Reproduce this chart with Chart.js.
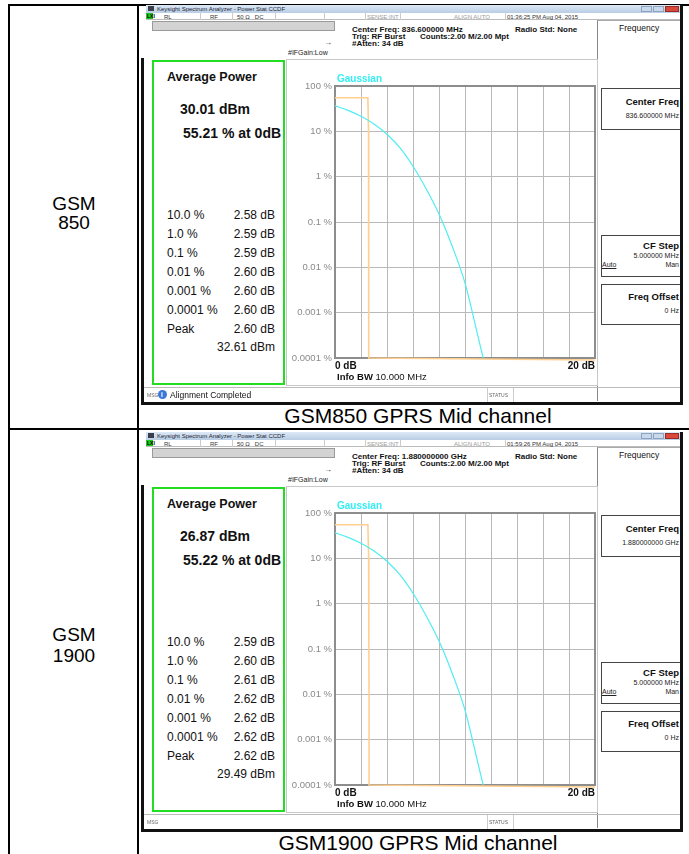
<!DOCTYPE html>
<html>
<head>
<meta charset="utf-8">
<script src="https://cdn.jsdelivr.net/npm/chart.js@4.4.0/dist/chart.umd.min.js"></script>
<style>
  body { margin: 0; background: #fff; font-family: "Liberation Sans", Arial, sans-serif; }
  #page { position: relative; width: 689px; height: 854px; overflow: hidden; }
  .a { position: absolute; white-space: nowrap; line-height: 1; }
  .box { position: absolute; box-sizing: border-box; }
</style>
</head>
<body>
<div id="page"></div>
<script>
// CCDF plot values (x in dB, y in % of time)
const yTicks = [100, 10, 1, 0.1, 0.01, 0.001, 0.0001];
const yTickLabels = ['100 %', '10 %', '1 %', '0.1 %', '0.01 %', '0.001 %', '0.0001 %'];
const gaussDb = [0, 1, 2, 3, 4, 5, 6, 7, 8, 9, 10, 11, 11.4];
const gaussPct = [36.5, 29, 21.5, 14.5, 8.6, 4.3, 1.7, 0.55, 0.15, 0.03, 0.0045, 0.0003, 0.0001];
const ccdfDb850 = [0, 2.53, 2.58, 2.59, 2.59, 2.60, 2.60, 2.60, 20];
const ccdfPct850 = [55.21, 55.21, 10, 1, 0.1, 0.01, 0.001, 0.0001, 0.00009];
const ccdfDb1900 = [0, 2.53, 2.59, 2.60, 2.61, 2.62, 2.62, 2.62, 20];
const ccdfPct1900 = [55.22, 55.22, 10, 1, 0.1, 0.01, 0.001, 0.0001, 0.00009];

// marker table shown in the green box
const statLabels = ['10.0 %', '1.0 %', '0.1 %', '0.01 %', '0.001 %', '0.0001 %', 'Peak'];
const stats850 = ['2.58 dB', '2.59 dB', '2.59 dB', '2.60 dB', '2.60 dB', '2.60 dB', '2.60 dB'];
const stats1900 = ['2.59 dB', '2.60 dB', '2.61 dB', '2.62 dB', '2.62 dB', '2.62 dB', '2.62 dB'];

const page = document.getElementById('page');

function el(cls, css, html) {
  const d = document.createElement('div');
  d.className = cls;
  d.style.cssText = css;
  if (html !== undefined) d.innerHTML = html;
  page.appendChild(d);
  return d;
}
function txt(x, y, size, html, extra) {
  return el('a', `left:${x}px;top:${y}px;font-size:${size}px;${extra || ''}`, html);
}
function rtxt(right, y, size, html, extra) {
  return el('a', `right:${689 - right}px;top:${y}px;font-size:${size}px;${extra || ''}`, html);
}

const framePlugin = {
  id: 'frame',
  beforeDatasetsDraw(chart) {
    const { ctx, chartArea: a } = chart;
    ctx.save();
    ctx.strokeStyle = '#8d8d8d';
    ctx.lineWidth = 2;
    ctx.strokeRect(a.left, a.top, a.right - a.left, a.bottom - a.top);
    ctx.restore();
  }
};

function makeChart(canvas, db, pct) {
  new Chart(canvas, {
    type: 'line',
    data: {
      datasets: [
        {
          label: 'Gaussian',
          data: gaussDb.map((x, i) => ({ x, y: gaussPct[i] })),
          borderColor: '#4fedf2',
          borderWidth: 1.2,
          pointRadius: 0,
          cubicInterpolationMode: 'monotone'
        },
        {
          label: 'CCDF',
          data: db.map((x, i) => ({ x, y: pct[i] })),
          borderColor: '#ffcf90',
          borderWidth: 1.6,
          pointRadius: 0,
          tension: 0,
          clip: 4
        }
      ]
    },
    options: {
      responsive: false,
      animation: false,
      devicePixelRatio: 1,
      layout: { padding: { top: 26, right: 3, left: 0, bottom: 0 } },
      plugins: { legend: { display: false }, tooltip: { enabled: false } },
      scales: {
        x: {
          type: 'linear', min: 0, max: 20,
          ticks: {
            stepSize: 2, align: 'inner', padding: 2, maxRotation: 0, autoSkip: false,
            color: '#111', font: { family: 'Liberation Sans', size: 10, weight: 'bold' },
            callback: v => v === 0 ? '0 dB' : (v === 20 ? '20 dB' : '')
          },
          grid: { color: '#b9b9b9', lineWidth: 1, drawTicks: false },
          border: { display: false },
          afterFit: s => { s.height = 28; }
        },
        y: {
          type: 'logarithmic', min: 0.0001, max: 100,
          afterBuildTicks: s => { s.ticks = yTicks.map(v => ({ value: v })); },
          ticks: {
            padding: 3, color: '#8a8a8a', font: { family: 'Liberation Sans', size: 9.5 },
            callback: v => yTickLabels[yTicks.indexOf(v)]
          },
          grid: { color: '#b9b9b9', lineWidth: 1, drawTicks: false },
          border: { display: false },
          afterFit: s => { s.width = 48; }
        }
      }
    },
    plugins: [framePlugin]
  });
}

function analyzer(o, c) {
  // window frame
  el('box', `left:141px;top:${58 + o}px;width:3px;height:${347}px;background:#111`);
  el('box', `left:680px;top:${5 + o}px;width:3px;height:${400}px;background:#111`);
  el('box', `left:141px;top:${402 + o}px;width:542px;height:3px;background:#111`);

  // title bar
  el('box', `left:146px;top:${5 + o}px;width:534px;height:8px;background:linear-gradient(#dde8f5,#b8cde4)`);
  el('box', `left:148px;top:${6 + o}px;width:6px;height:5px;background:#3a3f4a`);
  txt(157, 6 + o, 6, 'Keysight Spectrum Analyzer - Power Stat CCDF', 'color:#1d2533');
  el('box', `left:641px;top:${6 + o}px;width:11px;height:6px;background:#c9d8ea;border:1px solid #8ea3bd`);
  el('box', `left:653px;top:${6 + o}px;width:11px;height:6px;background:#c9d8ea;border:1px solid #8ea3bd`);
  el('box', `left:665px;top:${6 + o}px;width:14px;height:6px;background:#d9483b;border:1px solid #9a2d23`);

  // status row
  el('box', `left:146px;top:${13 + o}px;width:534px;height:7px;border-bottom:1px solid #bbb`);
  el('box', `left:146px;top:${13 + o}px;width:7px;height:6px;background:#1fc81f`);
  txt(147, 14 + o, 5, 'LXI', 'color:#000;font-weight:bold');
  txt(164, 14 + o, 6, 'RL', 'color:#333');
  txt(210, 14 + o, 6, 'RF', 'color:#333');
  txt(237, 14 + o, 6, '50 Ω&nbsp;&nbsp;&nbsp;DC', 'color:#333');
  [200, 232, 275, 324, 365, 400, 505].forEach(x =>
    el('box', `left:${x}px;top:${13 + o}px;width:1px;height:7px;background:#ccc`));
  txt(367, 14 + o, 6, 'SENSE:INT', 'color:#999');
  txt(454, 14 + o, 6, 'ALIGN AUTO', 'color:#999');
  txt(507, 14 + o, 6, c.stamp, 'color:#333');

  // measurement header
  el('box', `left:152px;top:${21 + o}px;width:183px;height:10px;background:#d3d3d3;border:1px solid #9a9a9a`);
  txt(352, 26 + o, 8, c.centerHdr, 'font-weight:bold;color:#111');
  txt(352, 33 + o, 8, 'Trig: RF Burst', 'font-weight:bold;color:#111');
  txt(352, 40 + o, 8, '#Atten: 34 dB', 'font-weight:bold;color:#111');
  txt(515, 26 + o, 8, 'Radio Std: None', 'font-weight:bold;color:#111');
  txt(420, 33 + o, 8, 'Counts:2.00 M/2.00 Mpt', 'font-weight:bold;color:#111');
  txt(324, 39 + o, 8, '→', 'color:#333');
  txt(288, 49 + o, 7, '#IFGain:Low', 'color:#222');

  // right softkey panel
  el('box', `left:597px;top:${20 + o}px;width:83px;height:381px;border-left:1px solid #888;border-top:1px solid #aaa`);
  txt(619, 24 + o, 8.5, 'Frequency', 'color:#111');
  [[88, 42], [235, 42], [284, 41]].forEach(([t, h]) =>
    el('box', `left:601px;top:${t + o}px;width:79px;height:${h}px;border:1px solid #444;border-right:none`));
  rtxt(679, 97 + o, 9.5, 'Center Freq', 'font-weight:bold;color:#111');
  rtxt(679, 112 + o, 7, c.centerKey, 'color:#222');
  rtxt(679, 241 + o, 9.5, 'CF Step', 'font-weight:bold;color:#111');
  rtxt(679, 252 + o, 7, '5.000000 MHz', 'color:#222');
  txt(602, 261 + o, 7, 'Auto', 'text-decoration:underline;color:#222');
  rtxt(679, 261 + o, 7, 'Man', 'color:#222');
  rtxt(679, 292 + o, 9.5, 'Freq Offset', 'font-weight:bold;color:#111');
  rtxt(679, 307 + o, 7, '0 Hz', 'color:#222');

  // green marker box
  el('box', `left:152px;top:${60 + o}px;width:133px;height:325px;border:2px solid #22dd22`);
  txt(167, 71 + o, 12.5, 'Average Power', 'font-weight:bold;color:#111');
  txt(180, 102 + o, 14, c.avg, 'font-weight:bold;color:#111');
  txt(183, 126 + o, 14, c.pct, 'font-weight:bold;color:#111');
  statLabels.forEach((s, i) => {
    txt(167, 209 + o + i * 19, 12, s, 'color:#111');
    rtxt(275, 209 + o + i * 19, 12, c.stats[i], 'color:#111');
  });
  rtxt(275, 341 + o, 12, c.peak, 'color:#111');

  // plot panel
  el('box', `left:286px;top:${59 + o}px;width:312px;height:327px;border:1px solid #c8c8c8`);
  const cv = document.createElement('canvas');
  cv.width = 311; cv.height = 326;
  cv.style.cssText = `position:absolute;left:287px;top:${60 + o}px`;
  page.appendChild(cv);
  txt(337, 74 + o, 10, 'Gaussian', 'font-weight:bold;color:#33eef5');
  txt(337, 372 + o, 9.5, '<b>Info BW</b> 10.000 MHz', 'color:#111');
  makeChart(cv, c.db, c.pctData);

  // message bar
  el('box', `left:144px;top:${387 + o}px;width:536px;height:15px;border-top:1px solid #bbb`);
  txt(147, 393 + o, 5, 'MSG', 'color:#666');
  el('box', `left:487px;top:${388 + o}px;width:1px;height:14px;background:#ccc`);
  el('box', `left:513px;top:${388 + o}px;width:1px;height:14px;background:#ccc`);
  txt(489, 393 + o, 5, 'STATUS', 'color:#666');
  if (c.msg) {
    el('box', `left:158px;top:${390 + o}px;width:9px;height:9px;border-radius:50%;background:#3b78d8`);
    txt(161, 391 + o, 7, 'i', 'color:#fff;font-weight:bold');
    txt(170, 391 + o, 8.5, c.msg, 'color:#111');
  }
}

// table grid
el('box', 'left:8px;top:4px;width:681px;height:2px;background:#000');
el('box', 'left:8px;top:4px;width:2px;height:850px;background:#000');
el('box', 'left:137px;top:4px;width:2px;height:850px;background:#000');
el('box', 'left:8px;top:428px;width:681px;height:2px;background:#000');

txt(0, 194, 19, 'GSM', 'width:148px;text-align:center;color:#000');
txt(0, 213, 19, '850', 'width:148px;text-align:center;color:#000');
txt(0, 625, 19, 'GSM', 'width:148px;text-align:center;color:#000');
txt(0, 646, 19, '1900', 'width:148px;text-align:center;color:#000');

txt(140, 405, 21, 'GSM850 GPRS Mid channel', 'width:556px;text-align:center;color:#000');
txt(140, 832, 21, 'GSM1900 GPRS Mid channel', 'width:556px;text-align:center;color:#000');

analyzer(0, {
  stamp: '01:36:25 PM Aug 04, 2015',
  centerHdr: 'Center Freq: 836.600000 MHz',
  centerKey: '836.600000 MHz',
  avg: '30.01 dBm', pct: '55.21 % at 0dB',
  stats: stats850, peak: '32.61 dBm',
  db: ccdfDb850, pctData: ccdfPct850,
  msg: 'Alignment Completed'
});
analyzer(427, {
  stamp: '01:59:26 PM Aug 04, 2015',
  centerHdr: 'Center Freq: 1.880000000 GHz',
  centerKey: '1.880000000 GHz',
  avg: '26.87 dBm', pct: '55.22 % at 0dB',
  stats: stats1900, peak: '29.49 dBm',
  db: ccdfDb1900, pctData: ccdfPct1900,
  msg: ''
});
</script>
</body>
</html>
